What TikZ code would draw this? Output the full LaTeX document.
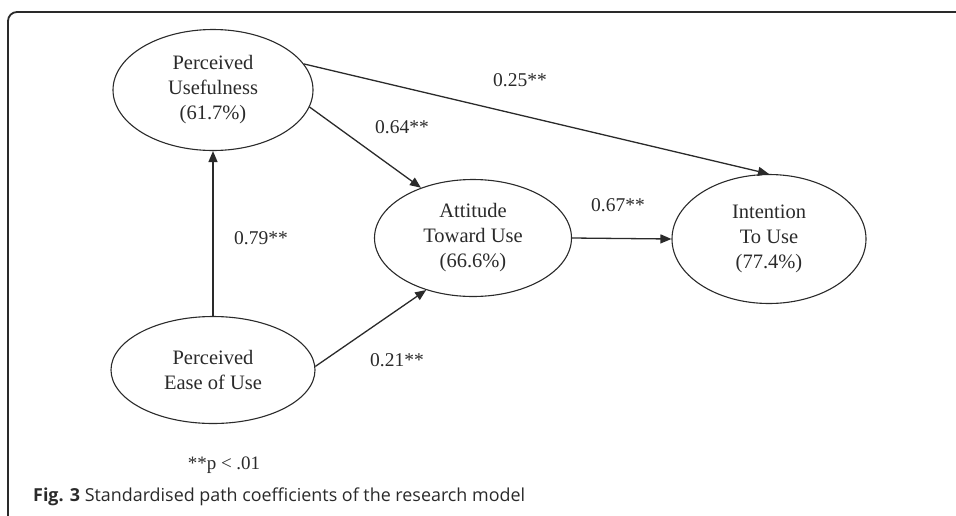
\documentclass[tikz,border=0pt]{standalone}
\usepackage{fontspec}
\setmainfont{Liberation Serif}
\newfontfamily\capfont{Open Sans}
\usetikzlibrary{shapes.geometric,arrows.meta}
\definecolor{ink}{HTML}{2A2A2A}
\begin{document}
\begin{tikzpicture}[x=1pt,y=-1pt,
  latent/.style={ellipse,draw=ink,line width=1.1pt,inner sep=0pt,align=center,text=ink,
    font=\fontsize{20.5}{25}\selectfont},
  coef/.style={text=ink,font=\fontsize{19.5}{23}\selectfont,inner sep=2pt},
  pathar/.style={draw=ink,line width=1.3pt,-{Triangle[length=11pt,width=9pt]}}]
\useasboundingbox (0,0) rectangle (956,515);
\begin{scope}
\clip (0,0) rectangle (956,515);
\draw[ink, line width=1.8pt, rounded corners=9pt] (8,12) rectangle (990,545);
\end{scope}

\node[latent, minimum width=200pt, minimum height=121pt] (pu) at (213,90) {Perceived\\Usefulness\\(61.7\%)};
\node[latent, minimum width=204pt, minimum height=107pt] (peou) at (213,370) {Perceived\\Ease of Use};
\node[latent, minimum width=197pt, minimum height=117pt] (atu) at (473,238) {Attitude\\Toward Use\\(66.6\%)};
\node[latent, minimum width=194pt, minimum height=129pt] (itu) at (769,239) {Intention\\To Use\\(77.4\%)};

\draw[pathar] (pu.16) -- (itu.north);
\draw[pathar] (pu.-10) -- (atu.136);
\draw[pathar] (peou.north) -- (pu.south);
\draw[pathar] (peou.2) -- (atu.228);
\draw[pathar] (atu.east) -- (itu.west);

\node[coef] (c25) at (520,80) {0.25**};
\node[coef] (c64) at (402,127) {0.64**};
\node[coef] (c79) at (261,238) {0.79**};
\node[coef] (c67) at (618,205) {0.67**};
\node[coef] (c21) at (397,360) {0.21**};
\node[text=ink,font=\fontsize{19}{22}\selectfont] (note) at (224,465) {**p < .01};

\node[anchor=west,inner sep=0pt,text=ink,font=\capfont\fontsize{17.9}{21}\selectfont] (cap) at (33,497)
  {\textbf{Fig. 3} Standardised path coefficients of the research model};
\end{tikzpicture}
\end{document}
